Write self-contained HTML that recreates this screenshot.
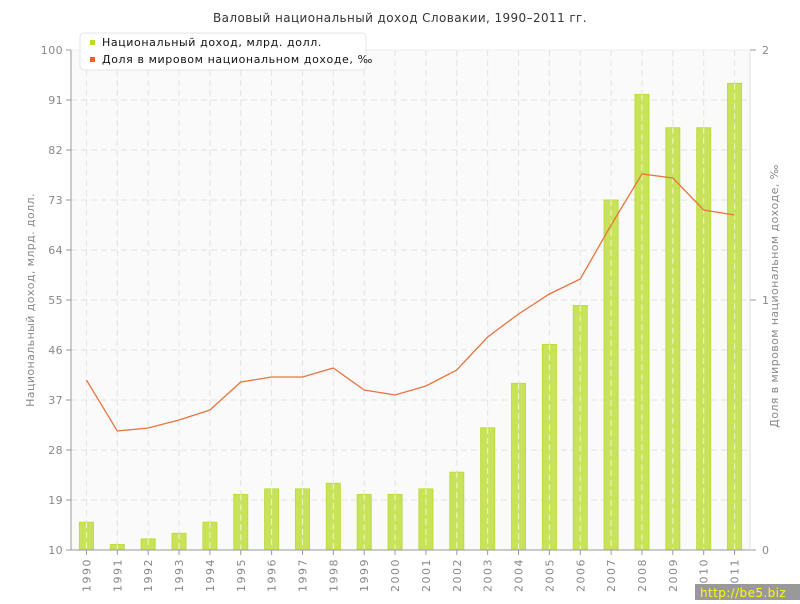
<!DOCTYPE html>
<html><head><meta charset="utf-8"><style>
body{margin:0;background:#fff;font-family:"DejaVu Sans","Liberation Sans",sans-serif;}
svg text{font-family:"DejaVu Sans","Liberation Sans",sans-serif;letter-spacing:0.4px;}
</style></head><body>
<svg id="c" width="800" height="600" xmlns="http://www.w3.org/2000/svg">
<rect x="0" y="0" width="800" height="600" fill="#fff"/>
<text x="400" y="22" text-anchor="middle" font-size="12" fill="#333">Валовый национальный доход Словакии, 1990–2011 гг.</text>
<rect x="71" y="50" width="679" height="500" fill="#fafafa"/>
<g id="grid"></g><g id="bars"></g><g id="line"></g><g id="axes"></g>
<text transform="translate(34,300) rotate(-90)" text-anchor="middle" font-size="11" fill="#888">Национальный доход, млрд. долл.</text>
<text transform="translate(778,296) rotate(-90)" text-anchor="middle" font-size="11" fill="#888">Доля в мировом национальном доходе, ‰</text>
<g>
<rect x="80" y="33" width="286" height="37" rx="4" fill="#fff" stroke="#e4e4e4"/>
<rect x="90" y="40" width="5" height="5" fill="#b5dc2b"/>
<text x="102" y="46" font-size="11" fill="#111" style="letter-spacing:0.6px">Национальный доход, млрд. долл.</text>
<rect x="90" y="57" width="5" height="5" fill="#e8632a"/>
<text x="102" y="63" font-size="11" fill="#111" style="letter-spacing:0.6px">Доля в мировом национальном доходе, ‰</text>
</g>
<rect x="695" y="584" width="105" height="16" fill="#999"/>
<text x="700" y="597" font-size="12" fill="#ff0">http://be5.biz</text>
</svg>
<script>
const years=[1990,1991,1992,1993,1994,1995,1996,1997,1998,1999,2000,2001,2002,2003,2004,2005,2006,2007,2008,2009,2010,2011];
const income=[15,11,12,13,15,20,21,21,22,20,20,21,24,32,40,47,54,73,92,86,86,94];
const share=[0.68,0.476,0.488,0.52,0.56,0.672,0.692,0.692,0.728,0.64,0.62,0.656,0.72,0.852,0.944,1.024,1.084,1.3,1.504,1.488,1.36,1.34];
const leftTicks=[10,19,28,37,46,55,64,73,82,91,100];
const rightTicks=[0,1,2];
const NS="http://www.w3.org/2000/svg";
const L=71,R=750,T=50,B=550,band=(R-L)/years.length;
const xc=i=>L+band*(i+0.5);
const yl=v=>B-(v-10)/90*(B-T);
const yr=v=>B-v/2*(B-T);
function mk(p,tag,a){const e=document.createElementNS(NS,tag);for(const k in a)e.setAttribute(k,a[k]);p.appendChild(e);return e;}
const g=document.getElementById('grid'),bg=document.getElementById('bars'),lg=document.getElementById('line'),ax=document.getElementById('axes');
leftTicks.forEach(v=>{const y=yl(v);
 const l=mk(g,'line',{x1:L,x2:R,y1:y,y2:y,stroke:'#e2e2e2','stroke-dasharray':'6,4'});
 
 
 mk(ax,'line',{x1:L-5,x2:L,y1:y,y2:y,stroke:'#999'});
 const t=mk(ax,'text',{x:L-8,y:y+4,'text-anchor':'end','font-size':11,fill:'#888'});t.textContent=v;
 
 
});
rightTicks.forEach(v=>{const y=yr(v);
 mk(ax,'line',{x1:R,x2:R+6,y1:y,y2:y,stroke:'#999'});
 const t=mk(ax,'text',{x:R+12,y:y+4,'font-size':11,fill:'#888'});t.textContent=v;
 
 
});
years.forEach((yv,i)=>{const x=xc(i);
 const b=mk(bg,'rect',{x:x-7,y:yl(income[i]),width:14,height:B-yl(income[i]),fill:'#c8e35a',stroke:'#bddc3a','stroke-width':1});
 
 
 const gl=mk(g,'line',{x1:x,x2:x,y1:T,y2:B,stroke:'#e2e2e2','stroke-dasharray':'6,4'});
 
 
 mk(ax,'line',{x1:x,x2:x,y1:B,y2:B+5,stroke:'#999'});
 const t=mk(ax,'text',{transform:`translate(${x+4},${B+8}) rotate(-90)`,'text-anchor':'end','font-size':11,fill:'#888',style:'letter-spacing:1.5px'});t.textContent=yv;
 
 
});
years.forEach((yv,i)=>{mk(bg,'line',{x1:xc(i),x2:xc(i),y1:yl(income[i]),y2:B,stroke:'#eef6c8','stroke-dasharray':'6,4'});});
const pl=mk(lg,'polyline',{points:share.map((v,i)=>xc(i)+','+yr(v)).join(' '),fill:'none',stroke:'#e8743f','stroke-width':1.3});


mk(ax,'line',{x1:L,x2:L,y1:T,y2:B,stroke:'#999'});
mk(ax,'line',{x1:L,x2:R,y1:B,y2:B,stroke:'#999'});
mk(ax,'line',{x1:R,x2:R,y1:T,y2:B,stroke:'#ddd'});
mk(ax,'line',{x1:L,x2:R,y1:T,y2:T,stroke:'#eee'});
</script>
</body></html>
